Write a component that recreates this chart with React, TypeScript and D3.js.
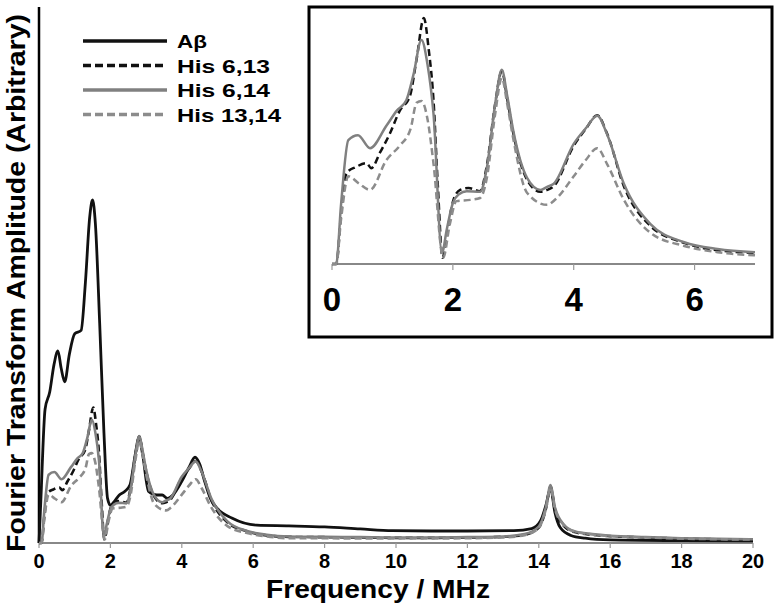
import React from 'react';
import * as d3 from 'd3';

// frequency (MHz) / amplitude (arbitrary, Aβ main peak = 100)
const abeta: [number, number][] = [
  [0, 0], [0.05, 12], [0.17, 39], [0.3, 44], [0.42, 52], [0.53, 56], [0.62, 51], [0.72, 47],
  [0.85, 55], [1.0, 61], [1.18, 62], [1.3, 76], [1.42, 95], [1.5, 100], [1.58, 93], [1.7, 64],
  [1.82, 32], [1.92, 13], [2.0, 11], [2.1, 12], [2.25, 14], [2.4, 15], [2.55, 17], [2.7, 26],
  [2.8, 31], [2.9, 26], [3.07, 15], [3.3, 14], [3.45, 14], [3.6, 13], [3.75, 14], [4.0, 18],
  [4.2, 22], [4.37, 25], [4.5, 23], [4.64, 18], [4.8, 13], [5.0, 10], [5.4, 7.3], [6.1, 5.2],
  [7, 5], [8, 4.7], [9, 4.1], [9.9, 3.6], [11, 3.5], [12, 3.5], [13.3, 3.6], [13.8, 4.2],
  [14.05, 6.5], [14.2, 11], [14.33, 16], [14.45, 9], [14.6, 4.5], [14.9, 2.2], [15.3, 1.4],
  [16, 0.9], [18, 0.7], [20, 0.6],
];

const his613: [number, number][] = [
  [0, 0], [0.07, 0], [0.15, 8], [0.24, 14.6], [0.4, 15.6], [0.57, 16.2], [0.65, 15.4], [0.8, 18],
  [0.96, 21], [1.12, 24.6], [1.29, 27], [1.4, 32.9], [1.52, 39.5], [1.6, 34.5], [1.68, 26.3],
  [1.75, 12.9], [1.83, 1], [1.9, 4.8], [2.01, 10.3], [2.12, 11.9], [2.26, 12.2], [2.45, 11.7],
  [2.56, 15.7], [2.7, 25.7], [2.81, 31], [2.9, 26.5], [3.0, 21], [3.23, 13.5], [3.45, 11.6],
  [3.56, 11.9], [3.67, 12.5], [4.0, 19], [4.2, 21.7], [4.39, 23.9], [4.55, 21], [4.83, 12.5],
  [5.27, 6.1], [5.83, 3.4], [6.38, 2.2], [7.0, 1.8], [8, 1.7], [9, 1.6], [10, 1.5], [11, 1.5],
  [12, 1.6], [13, 1.8], [13.6, 2.4], [14.0, 4.5], [14.2, 10], [14.33, 16.5], [14.45, 10],
  [14.7, 5], [15, 3.2], [15.5, 2.4], [16, 2.0], [17, 1.6], [18, 1.3], [19, 1.1], [20, 1.0],
];

const his614: [number, number][] = [
  [0, 0], [0.07, 0], [0.15, 9.6], [0.27, 19.9], [0.43, 20.7], [0.63, 18.6], [0.9, 22.2],
  [1.07, 24.6], [1.23, 26.3], [1.35, 30.5], [1.48, 36], [1.58, 32.1], [1.68, 24.1], [1.82, 1.8],
  [1.9, 5.6], [2.0, 9.8], [2.1, 11.2], [2.23, 11.7], [2.45, 11.6], [2.56, 15.3], [2.7, 25.7],
  [2.81, 31.2], [2.9, 27], [3.0, 21.4], [3.23, 13.8], [3.45, 11.9], [3.56, 12.4], [3.67, 12.9],
  [4.0, 19.3], [4.2, 21.8], [4.39, 23.8], [4.55, 20.9], [4.83, 12.9], [5.27, 6.4], [5.83, 3.5],
  [6.38, 2.4], [7, 1.9], [8, 1.8], [9, 1.7], [10, 1.6], [11, 1.6], [12, 1.7], [13, 1.9],
  [13.6, 2.6], [14.0, 4.8], [14.2, 10.5], [14.33, 16.9], [14.45, 10.5], [14.7, 5.4], [15, 3.4],
  [15.5, 2.6], [16, 2.1], [17, 1.7], [18, 1.4], [19, 1.2], [20, 1.1],
];

const his1314: [number, number][] = [
  [0, 0], [0.07, 0], [0.15, 7.2], [0.27, 14.1], [0.45, 12.9], [0.63, 11.9], [0.9, 16.7],
  [1.12, 19], [1.3, 21.7], [1.4, 25.9], [1.48, 26.2], [1.58, 23.3], [1.68, 16.1], [1.84, 1],
  [1.95, 6.4], [2.06, 10.1], [2.29, 10.3], [2.45, 10.6], [2.56, 13.7], [2.7, 24.1], [2.81, 29.9],
  [2.9, 25.7], [3.0, 20.1], [3.23, 11.4], [3.56, 9.5], [3.7, 10.4], [4.0, 14.1], [4.2, 16.7],
  [4.39, 18.6], [4.55, 16.1], [4.83, 10.3], [5.27, 5], [5.83, 2.9], [6.38, 1.9], [7, 1.4],
  [8, 1.4], [9, 1.3], [10, 1.3], [11, 1.3], [12, 1.4], [13, 1.6], [13.6, 2.3], [14.0, 4.4],
  [14.2, 10], [14.33, 16.2], [14.45, 10], [14.7, 5.2], [15, 3.3], [15.5, 2.5], [16, 2.0],
  [17, 1.6], [18, 1.3], [19, 1.1], [20, 1.0],
];

const seriesNames = ['Aβ', 'His 6,13', 'His 6,14', 'His 13,14'];
const seriesData = [abeta, his613, his614, his1314];
const seriesColors = ['#111', '#111', '#808080', '#8c8c8c'];
const seriesDash = ['', '7,4', '', '7,4'];
const legendWidths = [30, 93, 93, 104];

const font = "'Liberation Sans', Arial, sans-serif";

const App = () => {
  // main panel
  const x = d3.scaleLinear().domain([0, 20]).range([39, 753]);
  const y = d3.scaleLinear().domain([0, 100]).range([543, 200]);
  // inset panel
  const xi = d3.scaleLinear().domain([0, 7]).range([332, 755]);
  const yi = d3.scaleLinear().domain([0, 40]).range([264, 15]);

  const line = d3.line<[number, number]>()
    .x(d => x(d[0]))
    .y(d => y(d[1]))
    .curve(d3.curveMonotoneX);
  const lineInset = d3.line<[number, number]>()
    .x(d => xi(d[0]))
    .y(d => yi(d[1]))
    .curve(d3.curveMonotoneX);

  return (
    <svg width={774} height={607} style={{ position: 'absolute', left: 0, top: 0, background: '#fff' }}
      fontFamily={font} fontWeight="bold">
      {/* main axes */}
      <line x1={39} x2={39} y1={7} y2={543} stroke="#000" strokeWidth={2.5} />
      <line x1={39} x2={753} y1={543} y2={543} stroke="#888" strokeWidth={2} />
      {x.ticks(10).map(t => (
        <g key={t}>
          <line x1={x(t)} x2={x(t)} y1={543} y2={548} stroke="#999" strokeWidth={1.2} />
          <text x={x(t)} y={568} textAnchor="middle" fontSize={20}>{t}</text>
        </g>
      ))}
      <text x={378} y={598} textAnchor="middle" fontSize={25} textLength={224}
        lengthAdjust="spacingAndGlyphs">Frequency / MHz</text>
      <text transform="translate(25,283) rotate(-90)" textAnchor="middle" fontSize={25}
        textLength={538} lengthAdjust="spacingAndGlyphs">Fourier Transform Amplitude (Arbitrary)</text>

      {seriesData.map((d, i) => (
        <path key={i} d={line(d) || ''} fill="none" stroke={seriesColors[i]}
          strokeWidth={i === 0 ? 2.8 : 2.6} strokeDasharray={seriesDash[i]} strokeLinejoin="round" />
      ))}

      {/* legend */}
      {seriesNames.map((n, i) => {
        const ly = 41 + i * 24.5;
        return (
          <g key={n}>
            <line x1={83} x2={167} y1={ly} y2={ly} stroke={seriesColors[i]} strokeWidth={3.5}
              strokeDasharray={seriesDash[i] ? '8,4' : ''} />
            <text x={177} y={ly + 7} fontSize={19} textLength={legendWidths[i]}
              lengthAdjust="spacingAndGlyphs">{n}</text>
          </g>
        );
      })}

      {/* inset */}
      <rect x={309} y={7} width={463} height={330} fill="#fff" stroke="#000" strokeWidth={3} />
      <line x1={332} x2={755} y1={264} y2={264} stroke="#888" strokeWidth={2} />
      {xi.ticks(4).map(t => (
        <g key={t}>
          <line x1={xi(t)} x2={xi(t)} y1={264} y2={270} stroke="#999" strokeWidth={1.2} />
          <text x={xi(t)} y={311} textAnchor="middle" fontSize={33}>{t}</text>
        </g>
      ))}
      {seriesData.slice(1).map((d, i) => (
        <path key={i} d={lineInset(d.filter(p => p[0] <= 7)) || ''} fill="none"
          stroke={seriesColors[i + 1]} strokeWidth={2.5} strokeDasharray={seriesDash[i + 1]}
          strokeLinejoin="round" />
      ))}
    </svg>
  );
};

export default App;
